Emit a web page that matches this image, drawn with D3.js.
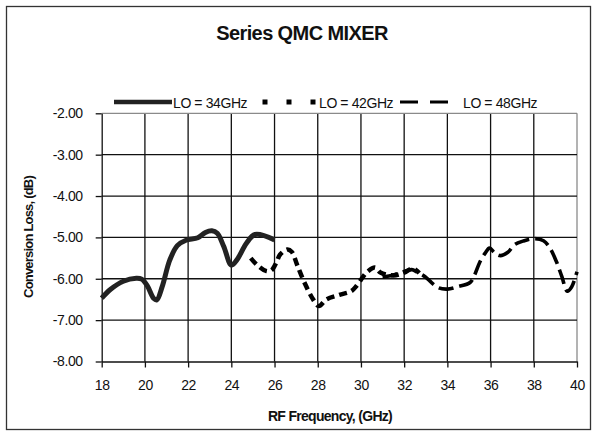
<!DOCTYPE html>
<html>
<head>
<meta charset="utf-8">
<script src="https://cdn.jsdelivr.net/npm/d3@7/dist/d3.min.js"></script>
<style>
  html, body { margin: 0; padding: 0; background: #fff; }
  svg { display: block; font-family: "Liberation Sans", Arial, Helvetica, sans-serif; }
</style>
</head>
<body>
<svg id="chart" width="594" height="434"></svg>
<script>
// RF frequency (GHz) and conversion loss (dB) for each LO setting
const lo34Freq = [18.0, 18.4, 19.0, 19.6, 19.85, 20.1, 20.4, 20.55, 20.8, 21.15, 21.5, 21.9, 22.45, 22.8, 23.1, 23.35, 23.65, 24.0, 24.25, 24.7, 25.1, 26.0];
const lo34Loss = [-6.47, -6.26, -6.06, -5.99, -6.01, -6.16, -6.47, -6.51, -6.19, -5.55, -5.2, -5.07, -5.01, -4.88, -4.84, -4.9, -5.22, -5.67, -5.55, -5.14, -4.93, -5.06];

const lo42Freq = [24.9, 25.2, 25.6, 25.85, 26.1, 26.25, 26.6, 26.8, 27.05, 27.4, 27.8, 28.05, 28.4, 29.0, 29.55, 29.8, 30.1, 30.3, 30.65, 30.9, 31.5, 32.0, 32.4, 32.7];
const lo42Loss = [-5.5, -5.67, -5.81, -5.8, -5.59, -5.42, -5.29, -5.35, -5.67, -6.11, -6.51, -6.66, -6.5, -6.39, -6.3, -6.17, -5.95, -5.83, -5.73, -5.85, -5.92, -5.85, -5.75, -5.86];

const lo48Freq = [31.0, 31.5, 31.9, 32.35, 32.6, 32.97, 33.28, 33.6, 34.0, 34.5, 35.05, 35.25, 35.5, 35.75, 35.95, 36.2, 36.45, 36.8, 37.1, 37.5, 38.0, 38.45, 38.75, 39.05, 39.3, 39.55, 39.75, 40.0];
const lo48Loss = [-5.96, -5.91, -5.84, -5.78, -5.84, -5.95, -6.1, -6.22, -6.25, -6.19, -6.09, -5.92, -5.6, -5.38, -5.26, -5.38, -5.44, -5.36, -5.18, -5.09, -5.03, -5.08, -5.26, -5.59, -5.95, -6.3, -6.2, -5.83];

const seriesNames = ["LO = 34GHz", "LO = 42GHz", "LO = 48GHz"];
const xTicks = [18, 20, 22, 24, 26, 28, 30, 32, 34, 36, 38, 40];
const yTicks = [-2, -3, -4, -5, -6, -7, -8];

const svg = d3.select("#chart");

// outer chart frame
svg.append("rect")
  .attr("x", 6.5).attr("y", 6.5).attr("width", 584).attr("height", 423)
  .attr("fill", "#fff").attr("stroke", "#333").attr("stroke-width", 1.3);

const x = d3.scaleLinear().domain([18, 40]).range([101.7, 577]);
const y = d3.scaleLinear().domain([-8, -2]).range([361.5, 113.3]);

// gridlines (top and right edges of the plot area are lighter)
const grid = svg.append("g");
grid.selectAll("line.v").data(xTicks.slice(1)).join("line")
  .attr("x1", d => x(d)).attr("x2", d => x(d))
  .attr("y1", y(-2)).attr("y2", y(-8))
  .attr("stroke", d => d === 40 ? "#8a8a8a" : "#111").attr("stroke-width", 1.3);
grid.selectAll("line.h").data(yTicks.slice(0, -1)).join("line")
  .attr("x1", x(18)).attr("x2", x(40))
  .attr("y1", d => y(d)).attr("y2", d => y(d))
  .attr("stroke", d => d === -2 ? "#8a8a8a" : "#111").attr("stroke-width", 1.3);

// axes
const fmt = d => d.toFixed(2);
const yAxis = svg.append("g").attr("transform", `translate(${x(18)},0)`)
  .call(d3.axisLeft(y).tickValues(yTicks).tickFormat(fmt).tickSizeInner(6).tickSizeOuter(0).tickPadding(13));
const xAxis = svg.append("g").attr("transform", `translate(0,${y(-8)})`)
  .call(d3.axisBottom(x).tickValues(xTicks).tickFormat(d3.format("d")).tickSizeInner(6).tickSizeOuter(0).tickPadding(13));
[yAxis, xAxis].forEach(a => {
  a.selectAll("path, line").attr("stroke", "#111").attr("stroke-width", 1.3);
  a.selectAll("text").attr("font-size", 14).attr("fill", "#111").attr("letter-spacing", -0.4)
    .attr("font-family", "'Liberation Sans', Arial, sans-serif");
});

// series lines
const line = d3.line().x(d => x(d[0])).y(d => y(d[1])).curve(d3.curveCatmullRom.alpha(0.5));
const zip = (a, b) => a.map((v, i) => [v, b[i]]);
const series = [
  { pts: zip(lo34Freq, lo34Loss), color: "#222", width: 5, dash: null },
  { pts: zip(lo42Freq, lo42Loss), color: "#000", width: 4.5, dash: "8,5" },
  { pts: zip(lo48Freq, lo48Loss), color: "#000", width: 3.6, dash: "15,6" }
];
svg.append("g").selectAll("path").data(series).join("path")
  .attr("d", d => line(d.pts))
  .attr("fill", "none")
  .attr("stroke", d => d.color)
  .attr("stroke-width", d => d.width)
  .attr("stroke-dasharray", d => d.dash)
  .attr("stroke-linejoin", "round");

// title
svg.append("text")
  .attr("x", 302).attr("y", 40).attr("text-anchor", "middle")
  .attr("font-size", 20).attr("font-weight", "bold").attr("letter-spacing", -0.6)
  .attr("fill", "#111").text("Series QMC MIXER");

// legend
const legend = svg.append("g");
const legendY = 102;
const legendItems = [
  { x1: 114, x2: 172, width: 4.5, dash: null, color: "#222", tx: 173 },
  { x1: 262.5, x2: 315.5, width: 5, dash: "5,19", color: "#000", tx: 319 },
  { x1: 400, x2: 450, width: 3, dash: "18,12", color: "#000", tx: 463 }
];
legendItems.forEach((it, i) => {
  legend.append("line")
    .attr("x1", it.x1).attr("x2", it.x2).attr("y1", legendY).attr("y2", legendY)
    .attr("stroke", it.color).attr("stroke-width", it.width).attr("stroke-dasharray", it.dash);
  legend.append("text")
    .attr("x", it.tx).attr("y", legendY + 5.5)
    .attr("font-size", 14).attr("letter-spacing", -0.4).attr("fill", "#111")
    .text(seriesNames[i]);
});

// axis titles
svg.append("text")
  .attr("transform", "translate(33,237) rotate(-90)")
  .attr("text-anchor", "middle")
  .attr("font-size", 13).attr("font-weight", "bold").attr("letter-spacing", -0.8)
  .attr("fill", "#111").text("Conversion Loss, (dB)");
svg.append("text")
  .attr("x", 330).attr("y", 421).attr("text-anchor", "middle")
  .attr("font-size", 14).attr("font-weight", "bold").attr("letter-spacing", -0.7)
  .attr("fill", "#111").text("RF Frequency, (GHz)");
</script>
</body>
</html>
